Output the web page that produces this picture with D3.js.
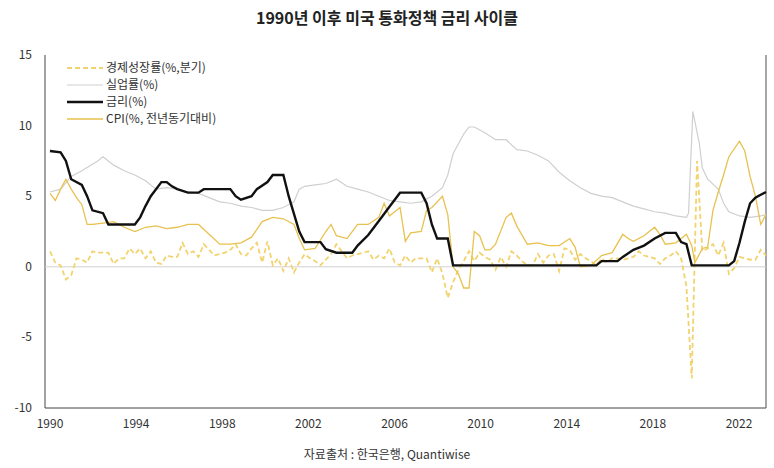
<!DOCTYPE html>
<html><head><meta charset="utf-8">
<script src="https://cdn.jsdelivr.net/npm/d3@7"></script>
<style>body{margin:0;background:#fff;font-family:"Noto Sans CJK KR","Noto Sans",sans-serif}</style>
</head><body><svg id="c" width="774" height="468"></svg>
<script>
const rate=[[1990,8.2],[1990.5,8.1],[1990.75,7.5],[1991,6.2],[1991.5,5.8],[1991.75,5.0],[1992,4.0],[1992.5,3.8],[1992.75,3.0],[1994,3.0],[1994.25,3.5],[1994.5,4.3],[1994.75,5.0],[1995.25,6.0],[1995.5,6.0],[1995.75,5.7],[1996,5.5],[1996.5,5.25],[1997,5.25],[1997.25,5.5],[1998.5,5.5],[1998.75,5.0],[1999,4.75],[1999.5,5.0],[1999.75,5.5],[2000.25,6.0],[2000.5,6.5],[2001,6.5],[2001.25,5.0],[2001.5,3.75],[2001.75,2.5],[2002,1.75],[2002.75,1.75],[2003,1.25],[2003.5,1.0],[2004.25,1.0],[2004.5,1.5],[2005,2.25],[2005.5,3.25],[2006,4.25],[2006.5,5.25],[2007.5,5.25],[2007.75,4.5],[2008,3.0],[2008.25,2.0],[2008.75,2.0],[2009,0.1],[2015.75,0.1],[2016,0.4],[2016.75,0.4],[2017,0.7],[2017.5,1.2],[2018,1.5],[2018.5,2.0],[2019,2.4],[2019.5,2.4],[2019.75,1.75],[2020,1.6],[2020.25,0.1],[2022,0.1],[2022.25,0.4],[2022.5,1.7],[2022.75,3.2],[2023,4.5],[2023.25,4.9],[2023.5,5.1],[2023.75,5.3]];
const unemp=[[1990,5.3],[1990.5,5.5],[1991,6.4],[1991.5,6.8],[1992.25,7.5],[1992.5,7.8],[1993,7.2],[1993.5,6.8],[1994,6.5],[1994.5,6.1],[1995,5.5],[1995.5,5.6],[1996,5.5],[1996.5,5.3],[1997,5.2],[1997.5,4.9],[1998,4.6],[1998.5,4.5],[1999,4.3],[1999.5,4.2],[2000,4.0],[2000.5,4.0],[2001,4.2],[2001.5,4.6],[2001.75,5.5],[2002,5.7],[2002.5,5.8],[2003,5.9],[2003.5,6.2],[2004,5.7],[2004.5,5.5],[2005,5.3],[2005.5,5.0],[2006,4.7],[2006.5,4.6],[2007,4.5],[2007.5,4.6],[2008,5.0],[2008.5,5.6],[2008.75,6.5],[2009,8.0],[2009.5,9.4],[2009.75,9.9],[2010,9.9],[2010.5,9.5],[2011,9.0],[2011.5,9.0],[2012,8.3],[2012.5,8.2],[2013,7.9],[2013.5,7.5],[2014,6.7],[2014.5,6.1],[2015,5.6],[2015.5,5.2],[2016,5.0],[2016.5,4.9],[2017,4.6],[2017.5,4.3],[2018,4.1],[2018.5,3.9],[2019,3.8],[2019.5,3.6],[2020,3.5],[2020.1,3.8],[2020.3,11.0],[2020.6,8.8],[2020.75,7.0],[2021,6.2],[2021.5,5.5],[2021.75,4.5],[2022,3.9],[2022.5,3.6],[2023,3.5],[2023.5,3.6],[2023.75,3.7]];
const cpi=[[1990,5.2],[1990.25,4.7],[1990.5,5.5],[1990.75,6.2],[1991,5.5],[1991.25,4.9],[1991.5,4.4],[1991.75,3.0],[1992,3.0],[1992.5,3.1],[1993,3.2],[1993.5,2.8],[1994,2.5],[1994.5,2.8],[1995,2.9],[1995.5,2.7],[1996,2.8],[1996.5,3.0],[1997,3.0],[1997.5,2.3],[1998,1.6],[1998.5,1.6],[1999,1.7],[1999.5,2.1],[2000,3.2],[2000.5,3.5],[2001,3.4],[2001.5,3.0],[2001.75,2.0],[2002,1.2],[2002.5,1.3],[2003,2.5],[2003.25,3.0],[2003.5,2.2],[2004,2.0],[2004.5,3.0],[2005,3.0],[2005.5,3.5],[2005.75,4.5],[2006,3.6],[2006.5,4.2],[2006.75,1.8],[2007,2.4],[2007.5,2.5],[2007.75,4.0],[2008,4.2],[2008.5,5.0],[2008.75,3.7],[2009,0.0],[2009.25,-0.5],[2009.5,-1.5],[2009.75,-1.5],[2010,2.5],[2010.25,2.2],[2010.5,1.2],[2010.75,1.2],[2011,1.6],[2011.5,3.5],[2011.75,3.8],[2012,2.9],[2012.5,1.6],[2013,1.7],[2013.5,1.5],[2014,1.5],[2014.5,2.0],[2014.75,1.4],[2015,0.0],[2015.5,0.1],[2016,0.8],[2016.5,1.0],[2017,2.3],[2017.25,2.0],[2017.5,1.8],[2018,2.2],[2018.5,2.8],[2018.75,2.3],[2019,1.6],[2019.5,1.7],[2020,2.3],[2020.25,1.5],[2020.4,0.3],[2020.75,1.3],[2021,1.4],[2021.25,4.0],[2021.5,5.3],[2021.75,6.5],[2022,7.8],[2022.5,8.9],[2022.75,8.2],[2023,6.4],[2023.25,5.0],[2023.5,3.0],[2023.75,3.7]];
const gdp=[[1990,1.1],[1990.25,0.3],[1990.5,0.1],[1990.75,-0.9],[1991,-0.6],[1991.25,0.6],[1991.5,0.5],[1991.75,0.3],[1992,1.1],[1992.25,1.0],[1992.5,1.0],[1992.75,1.0],[1993,0.2],[1993.25,0.6],[1993.5,0.6],[1993.75,1.3],[1994,0.9],[1994.25,1.3],[1994.5,0.6],[1994.75,1.1],[1995,0.3],[1995.25,0.2],[1995.5,0.8],[1995.75,0.7],[1996,0.7],[1996.25,1.7],[1996.5,0.9],[1996.75,1.1],[1997,0.7],[1997.25,1.6],[1997.5,1.2],[1997.75,0.8],[1998,0.9],[1998.25,1.0],[1998.5,1.2],[1998.75,1.6],[1999,0.9],[1999.25,0.8],[1999.5,1.3],[1999.75,1.7],[2000,0.3],[2000.25,1.8],[2000.5,0.1],[2000.75,0.6],[2001,-0.3],[2001.25,0.6],[2001.5,-0.4],[2001.75,0.3],[2002,0.9],[2002.25,0.6],[2002.5,0.4],[2002.75,0.1],[2003,0.5],[2003.25,0.9],[2003.5,1.6],[2003.75,1.1],[2004,0.6],[2004.25,0.8],[2004.5,0.9],[2004.75,1.0],[2005,1.1],[2005.25,0.5],[2005.5,0.8],[2005.75,0.6],[2006,1.3],[2006.25,0.3],[2006.5,0.1],[2006.75,0.8],[2007,0.3],[2007.25,0.6],[2007.5,0.6],[2007.75,0.6],[2008,-0.4],[2008.25,0.6],[2008.5,-0.5],[2008.75,-2.2],[2009,-1.1],[2009.25,-0.2],[2009.5,0.4],[2009.75,1.1],[2010,0.4],[2010.25,1.0],[2010.5,0.7],[2010.75,0.5],[2011,-0.2],[2011.25,0.7],[2011.5,0.0],[2011.75,1.1],[2012,0.8],[2012.25,0.4],[2012.5,0.1],[2012.75,0.1],[2013,0.9],[2013.25,0.3],[2013.5,0.8],[2013.75,0.9],[2014,-0.3],[2014.25,1.3],[2014.5,1.2],[2014.75,0.5],[2015,0.9],[2015.25,0.6],[2015.5,0.4],[2015.75,0.1],[2016,0.6],[2016.25,0.3],[2016.5,0.6],[2016.75,0.6],[2017,0.5],[2017.25,0.6],[2017.5,0.7],[2017.75,1.1],[2018,0.8],[2018.25,0.7],[2018.5,0.6],[2018.75,0.2],[2019,0.6],[2019.25,0.8],[2019.5,1.1],[2019.75,0.6],[2020,-1.4],[2020.25,-7.9],[2020.5,7.5],[2020.75,1.1],[2021,1.3],[2021.25,1.6],[2021.5,0.8],[2021.75,1.7],[2022,-0.5],[2022.25,-0.1],[2022.5,0.7],[2022.75,0.6],[2023,0.5],[2023.25,0.5],[2023.5,1.2],[2023.75,0.8]];
const yTicks=[-10,-5,0,5,10,15];
const xTicks=[1990,1994,1998,2002,2006,2010,2014,2018,2022];
const labels=["경제성장률(%,분기)","실업률(%)","금리(%)","CPI(%, 전년동기대비)"];

const svg=d3.select("#c");
const x=d3.scaleLinear().domain([1990,2023.75]).range([50,766]);
const xl=d3.scaleLinear().domain([1990,2022]).range([50,739]);
const y=d3.scaleLinear().domain([-10,15]).range([408,55]);
svg.append("text").attr("x",387).attr("y",24).attr("text-anchor","middle").attr("font-size",16).attr("font-weight","bold").attr("fill","#222").text("1990년 이후 미국 통화정책 금리 사이클");
svg.append("line").attr("x1",45).attr("x2",45).attr("y1",55).attr("y2",408).attr("stroke","#444");
svg.append("line").attr("x1",766).attr("x2",766).attr("y1",55).attr("y2",408).attr("stroke","#888").attr("stroke-width",1.5);
svg.append("line").attr("x1",45).attr("x2",766).attr("y1",408).attr("y2",408).attr("stroke","#444");
svg.append("line").attr("x1",45).attr("x2",766).attr("y1",y(0)).attr("y2",y(0)).attr("stroke","#d0d0d0");
yTicks.forEach(t=>svg.append("text").attr("x",32).attr("y",y(t)+4).attr("text-anchor","end").attr("font-size",12).attr("fill","#333").text(t));
xTicks.forEach(t=>svg.append("text").attr("x",xl(t)).attr("y",428).attr("text-anchor","middle").attr("font-size",12).attr("fill","#333").text(t));
const line=d3.line().x(d=>x(d[0])).y(d=>y(d[1]));
const series=[
 {d:gdp,c:"#f2d36e",w:1.8,dash:"5,3"},
 {d:unemp,c:"#cfcfcf",w:1.2,dash:null},
 {d:cpi,c:"#e8c14e",w:1.3,dash:null},
 {d:rate,c:"#111",w:2.4,dash:null}];
series.forEach(s=>svg.append("path").attr("d",line(s.d)).attr("fill","none").attr("stroke",s.c).attr("stroke-width",s.w).attr("stroke-dasharray",s.dash));
const leg=[series[0],series[1],series[3],series[2]];
leg.forEach((s,i)=>{const yy=68+i*17;
 svg.append("line").attr("x1",67).attr("x2",103).attr("y1",yy).attr("y2",yy).attr("stroke",s.c).attr("stroke-width",s.w).attr("stroke-dasharray",s.dash);
 svg.append("text").attr("x",106).attr("y",yy+4).attr("font-size",12).attr("fill","#333").text(labels[i]);});
svg.append("text").attr("x",387).attr("y",459).attr("text-anchor","middle").attr("font-size",12).attr("fill","#333").text("자료출처 : 한국은행, Quantiwise");
</script></body></html>
